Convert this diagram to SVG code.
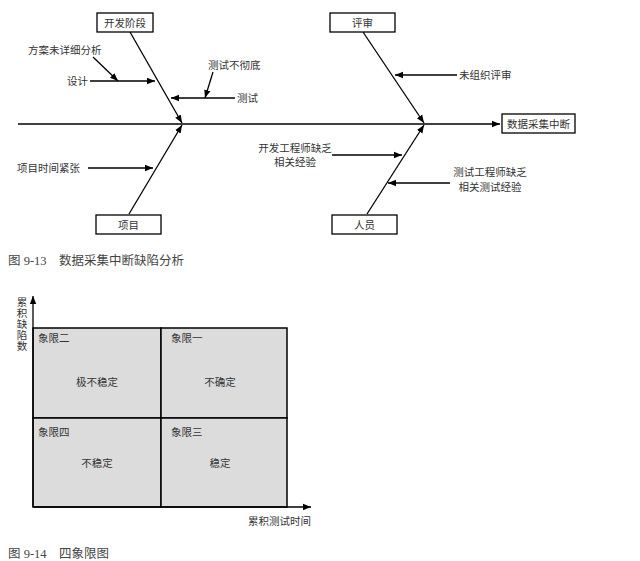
<svg xmlns="http://www.w3.org/2000/svg" width="640" height="561" viewBox="0 0 640 561">
<defs>
<marker id="ah" viewBox="0 0 10 10" refX="10" refY="5" markerWidth="8" markerHeight="8" markerUnits="userSpaceOnUse" orient="auto"><path d="M0,1 L10,5 L0,9 z" fill="#000"/></marker>
<style>
.t{font-family:"Liberation Serif","Noto Sans CJK SC",serif;font-size:10.5px;fill:#333}
.c{font-family:"Liberation Serif","Noto Sans CJK SC",serif;font-size:12.5px;fill:#444}
.box{fill:#fff;stroke:#000;stroke-width:1.3}
.ln{stroke:#000;stroke-width:1.3;fill:none}
.q{fill:#dcdcdc;stroke:#000;stroke-width:1.5}
</style>
</defs>
<rect width="640" height="561" fill="#fff"/>
<g id="connectors">
<line class="ln" x1="18" y1="124" x2="500" y2="124" marker-end="url(#ah)"/>
<line class="ln" x1="130" y1="32" x2="182" y2="123" marker-end="url(#ah)"/>
<line class="ln" x1="363" y1="32" x2="424" y2="123" marker-end="url(#ah)"/>
<line class="ln" x1="129" y1="214" x2="182" y2="125" marker-end="url(#ah)"/>
<line class="ln" x1="367" y1="214" x2="424" y2="125" marker-end="url(#ah)"/>
<line class="ln" x1="90" y1="81" x2="155" y2="81" marker-end="url(#ah)"/>
<line class="ln" x1="93" y1="57" x2="118" y2="81" marker-end="url(#ah)"/>
<line class="ln" x1="235" y1="98" x2="171" y2="98" marker-end="url(#ah)"/>
<line class="ln" x1="213" y1="72" x2="205" y2="98" marker-end="url(#ah)"/>
<line class="ln" x1="457" y1="75" x2="395" y2="75" marker-end="url(#ah)"/>
<line class="ln" x1="88" y1="168" x2="153" y2="168" marker-end="url(#ah)"/>
<line class="ln" x1="332" y1="155" x2="402" y2="155" marker-end="url(#ah)"/>
<line class="ln" x1="450" y1="183" x2="388" y2="183" marker-end="url(#ah)"/>
</g>
<g id="n-kaifa"><rect class="box" x="97" y="13" width="56" height="19"/><text class="t" x="125" y="26.5" text-anchor="middle">开发阶段</text></g>
<g id="n-pingshen"><rect class="box" x="330" y="13" width="65" height="19"/><text class="t" x="362.5" y="26.5" text-anchor="middle">评审</text></g>
<g id="n-xiangmu"><rect class="box" x="96" y="215" width="65" height="19"/><text class="t" x="128.5" y="228.5" text-anchor="middle">项目</text></g>
<g id="n-renyuan"><rect class="box" x="332" y="215" width="65" height="19"/><text class="t" x="364.5" y="228.5" text-anchor="middle">人员</text></g>
<g id="n-result"><rect class="box" x="502" y="114" width="73" height="19"/><text class="t" x="538.5" y="127.5" text-anchor="middle">数据采集中断</text></g>
<g id="labels">
<text class="t" x="28" y="54">方案未详细分析</text>
<text class="t" x="67" y="85">设计</text>
<text class="t" x="208" y="69">测试不彻底</text>
<text class="t" x="237" y="102">测试</text>
<text class="t" x="459" y="79">未组织评审</text>
<text class="t" x="17" y="172">项目时间紧张</text>
<text class="t" x="295" y="152" text-anchor="middle">开发工程师缺乏</text>
<text class="t" x="295" y="166" text-anchor="middle">相关经验</text>
<text class="t" x="490" y="176" text-anchor="middle">测试工程师缺乏</text>
<text class="t" x="490" y="191" text-anchor="middle">相关测试经验</text>
</g>
<text class="c" x="8" y="265">图 9-13　数据采集中断缺陷分析</text>
<g id="quadrant">
<rect class="q" x="33" y="328" width="128" height="90"/>
<rect class="q" x="161" y="328" width="126" height="90"/>
<rect class="q" x="33" y="418" width="128" height="89"/>
<rect class="q" x="161" y="418" width="126" height="89"/>
<line class="ln" x1="33" y1="507" x2="33" y2="296" marker-end="url(#ah)"/>
<line class="ln" x1="33" y1="507" x2="311" y2="507" marker-end="url(#ah)"/>
<g class="t" text-anchor="middle"><text x="22" y="306">累</text><text x="22" y="317">积</text><text x="22" y="328">缺</text><text x="22" y="339">陷</text><text x="22" y="350">数</text></g>
<text class="t" x="38" y="342">象限二</text>
<text class="t" x="171" y="342">象限一</text>
<text class="t" x="97" y="386" text-anchor="middle">极不稳定</text>
<text class="t" x="220" y="386" text-anchor="middle">不确定</text>
<text class="t" x="38" y="436">象限四</text>
<text class="t" x="171" y="436">象限三</text>
<text class="t" x="97" y="467" text-anchor="middle">不稳定</text>
<text class="t" x="220" y="467" text-anchor="middle">稳定</text>
<text class="t" x="248" y="525">累积测试时间</text>
</g>
<text class="c" x="8" y="558">图 9-14　四象限图</text>
</svg>
